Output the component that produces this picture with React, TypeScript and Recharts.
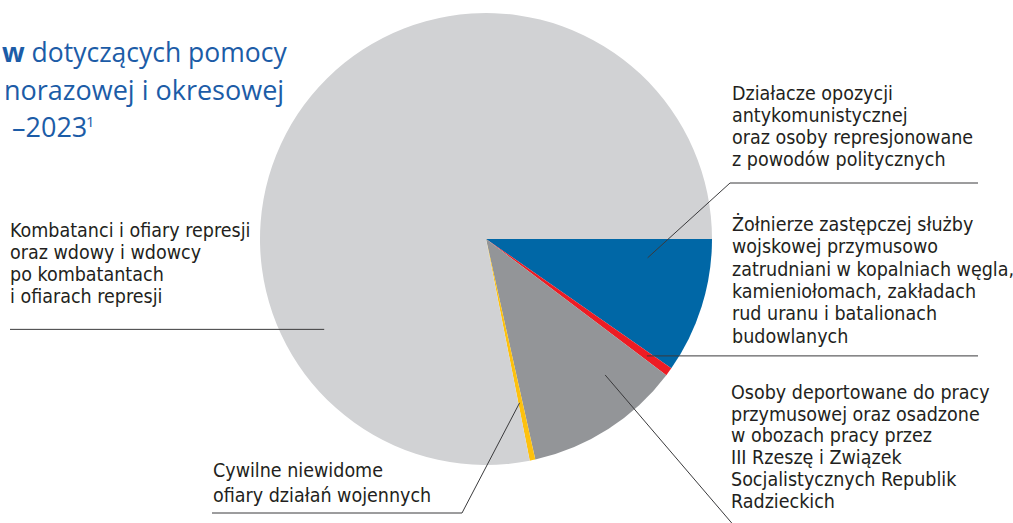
import { Cell, Pie, PieChart } from "recharts";

// shares of applications by group (%), clockwise from 3 o'clock
const groups = ["opozycja", "zolnierze", "deportowani", "niewidomi", "kombatanci"];
const shares = [9.7, 0.6, 11.2, 0.4, 78.1];
const colors = ["#0067a6", "#ed1c24", "#939598", "#fdc10e", "#d1d2d4"];

const labelTexts = [
  ["Działacze opozycji", "antykomunistycznej", "oraz osoby represjonowane", "z powodów politycznych"],
  [
    "Żołnierze zastępczej służby",
    "wojskowej przymusowo",
    "zatrudniani w kopalniach węgla,",
    "kamieniołomach, zakładach",
    "rud uranu i batalionach",
    "budowlanych"
  ],
  [
    "Osoby deportowane do pracy",
    "przymusowej oraz osadzone",
    "w obozach pracy przez",
    "III Rzeszę i Związek",
    "Socjalistycznych Republik",
    "Radzieckich"
  ],
  ["Cywilne niewidome", "ofiary działań wojennych"],
  ["Kombatanci i ofiary represji", "oraz wdowy i wdowcy", "po kombatantach", "i ofiarach represji"]
];

const data = groups.map((name, i) => ({ name, value: shares[i] }));

// where each leader line starts inside its slice (t = fraction along the slice, r = fraction of radius),
// where it bends and where the text sits
const labelLayout = [
  { t: 0.19, r: 0.72, path: [[730, 183], [978, 183]], x: 732, y: 100, lh: 22 },
  { t: 0.5, r: 0.88, path: [[978, null]], x: 732, y: 231, lh: 22.3 },
  { t: 0.29, r: 0.8, path: [[742, 535]], x: 731, y: 399, lh: 21.7 },
  { t: 0.7, r: 0.74, path: [[462, 513], [212, 513]], x: 213, y: 477, lh: 24.5 },
  { t: 0.256, r: 0.82, path: [[10, null]], x: 10, y: 237, lh: 22 }
];

const RAD = Math.PI / 180;
const labelFont = "'Liberation Sans Narrow', 'DejaVu Sans Condensed', 'Liberation Sans', sans-serif";

function renderLabel(props: any) {
  const { cx, cy, outerRadius, startAngle, endAngle, index } = props;
  const cfg = labelLayout[index];
  const a = startAngle + cfg.t * (endAngle - startAngle);
  const ax = cx + outerRadius * cfg.r * Math.cos(-a * RAD);
  const ay = cy + outerRadius * cfg.r * Math.sin(-a * RAD);
  const pts = [[ax, ay], ...cfg.path.map(([px, py]) => [px, py ?? ay])];
  return (
    <g key={`lbl-${index}`}>
      <polyline
        points={pts.map((p) => p.join(",")).join(" ")}
        fill="none"
        stroke="#3a3a3c"
        strokeWidth={1}
      />
      <text x={cfg.x} y={cfg.y} fill="#231f20" fontFamily={labelFont} fontSize={19.5}>
        {labelTexts[index].map((line, j) => (
          <tspan key={j} x={cfg.x} y={cfg.y + j * cfg.lh}>
            {line}
          </tspan>
        ))}
      </text>
    </g>
  );
}

export default function App() {
  return (
    <div style={{ position: "relative", width: 1013, height: 523, background: "#fff", overflow: "hidden" }}>
      <style>{`body{margin:0}`}</style>
      <svg
        width={300}
        height={150}
        style={{ position: "absolute", left: 0, top: 0 }}
        fontFamily="'Open Sans', sans-serif"
        fill="#1c5ca7"
        fontSize={27}
      >
        <text x={2} y={62} fontSize={26.5}>
          <tspan fontWeight={700}>w</tspan> dotyczących pomocy
        </text>
        <text x={4} y={100}>
          norazowej i okresowej
        </text>
        <text x={12} y={137}>
          –2023
        </text>
        <text x={86} y={127} fontSize={15}>
          1
        </text>
      </svg>
      <div style={{ position: "absolute", left: 0, top: 0 }}>
        <PieChart width={1013} height={523} margin={{ top: 0, right: 0, bottom: 0, left: 0 }}>
          <Pie
            data={data}
            dataKey="value"
            nameKey="name"
            cx={486}
            cy={239}
            outerRadius={226}
            startAngle={0}
            endAngle={-360}
            stroke="none"
            isAnimationActive={false}
            label={renderLabel}
            labelLine={false}
          >
            {data.map((d, i) => (
              <Cell key={d.name} fill={colors[i]} />
            ))}
          </Pie>
        </PieChart>
      </div>
    </div>
  );
}
